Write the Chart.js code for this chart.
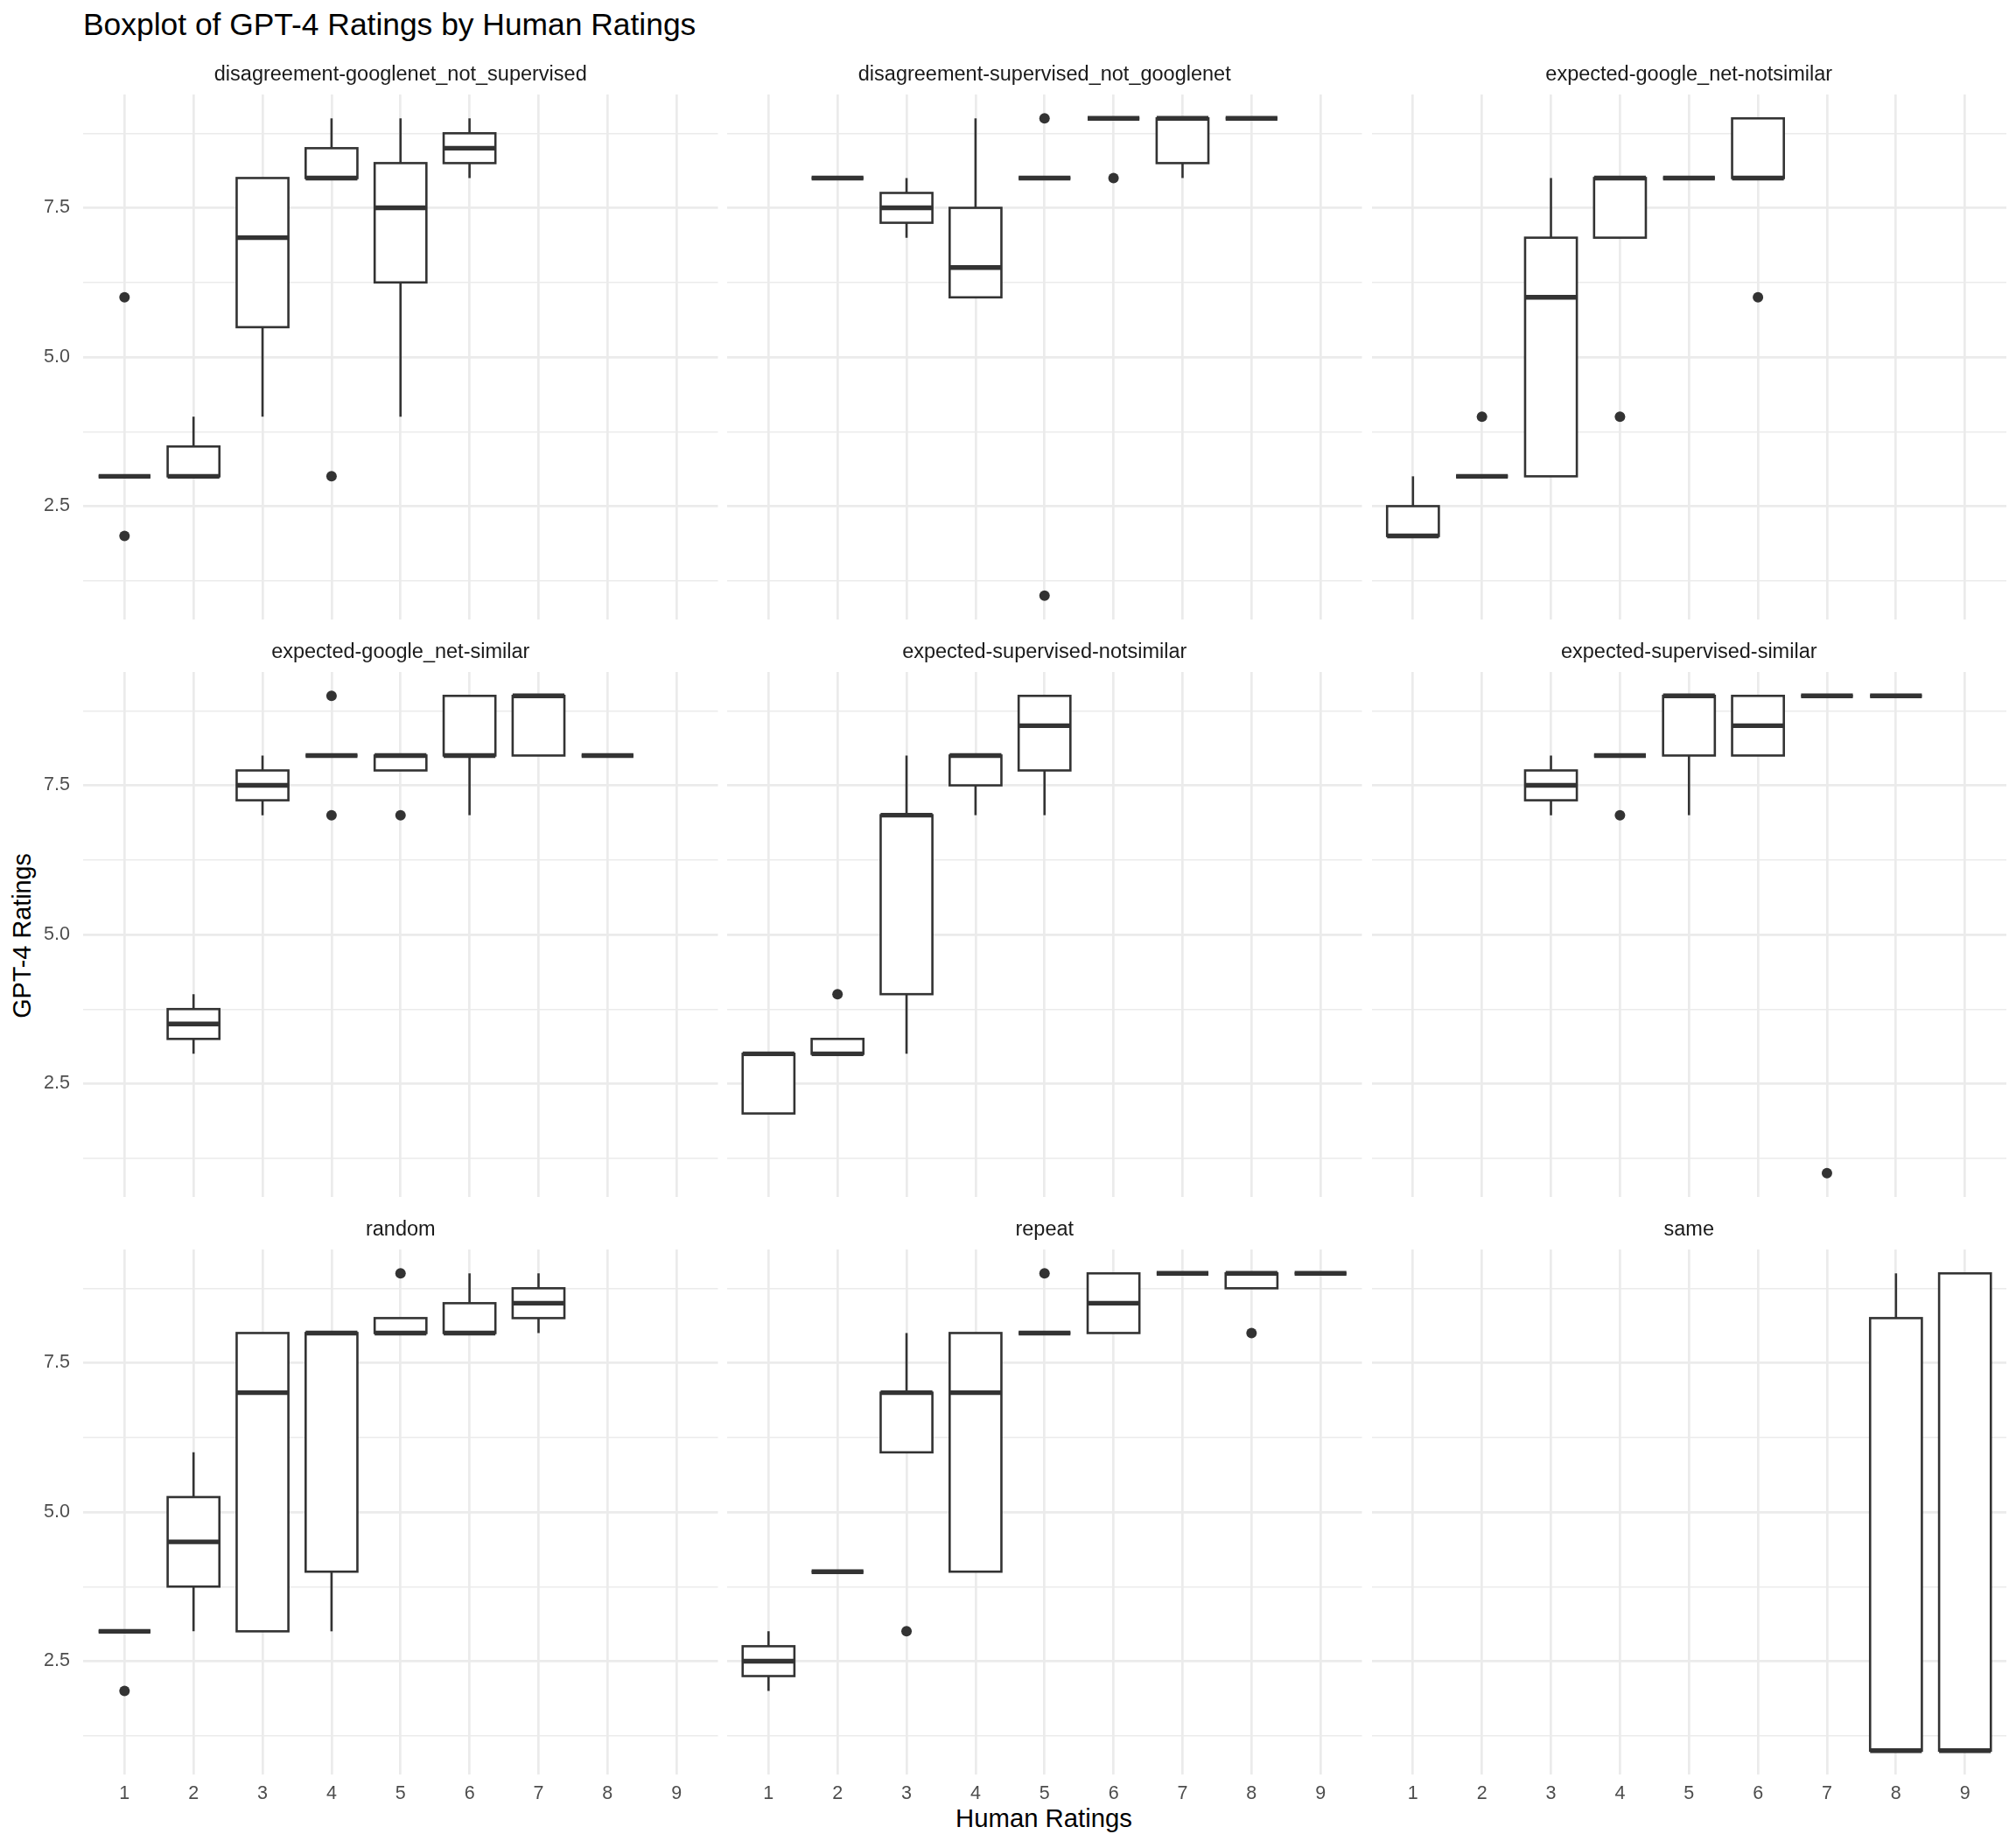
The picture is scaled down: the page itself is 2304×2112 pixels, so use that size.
<!DOCTYPE html>
<html>
<head>
<meta charset="utf-8">
<script src="https://cdn.jsdelivr.net/npm/chart.js@4.4.1/dist/chart.umd.min.js"></script>
<style>
html, body { margin: 0; padding: 0; background: #ffffff; }
#root { position: relative; width: 2304px; height: 2112px; overflow: hidden; background: #ffffff;
        font-family: "Liberation Sans", Arial, Helvetica, sans-serif; }
#root canvas { position: absolute; }
.txt { position: absolute; white-space: nowrap; color: #000000; }
</style>
</head>
<body>
<div id="root">
  <div class="txt" style="left:95px;top:11px;font-size:35.4px;line-height:35.4px;">Boxplot of GPT-4 Ratings by Human Ratings</div>
  <div class="txt" style="left:993px;top:2063.2px;width:400px;text-align:center;font-size:29.3px;line-height:29.3px;">Human Ratings</div>
  <div class="txt" style="left:-174.7px;top:1054.6px;width:400px;height:28.8px;text-align:center;font-size:28.8px;line-height:28.8px;transform:rotate(-90deg);">GPT-4 Ratings</div>
</div>
<script>
// ---------------- data ----------------
const N = null;
const humanRatings = [1, 2, 3, 4, 5, 6, 7, 8, 9];
const yMajorTicks = [2.5, 5.0, 7.5];
const yMinorTicks = [1.25, 3.75, 6.25, 8.75];
const panelNames = [
  "disagreement-googlenet_not_supervised",
  "disagreement-supervised_not_googlenet",
  "expected-google_net-notsimilar",
  "expected-google_net-similar",
  "expected-supervised-notsimilar",
  "expected-supervised-similar",
  "random",
  "repeat",
  "same"
];

// panel 1: disagreement-googlenet_not_supervised
const p1Low    = [3, 3,   4,   8,   4,    8,    N, N, N];
const p1Q1     = [3, 3,   5.5, 8,   6.25, 8.25, N, N, N];
const p1Median = [3, 3,   7,   8,   7.5,  8.5,  N, N, N];
const p1Q3     = [3, 3.5, 8,   8.5, 8.25, 8.75, N, N, N];
const p1High   = [3, 4,   8,   9,   9,    9,    N, N, N];
const p1OutX   = [1, 1, 4];
const p1OutY   = [6, 2, 3];

// panel 2: disagreement-supervised_not_googlenet
const p2Low    = [N, 8, 7,    6,   8, 9, 8,    9, N];
const p2Q1     = [N, 8, 7.25, 6,   8, 9, 8.25, 9, N];
const p2Median = [N, 8, 7.5,  6.5, 8, 9, 9,    9, N];
const p2Q3     = [N, 8, 7.75, 7.5, 8, 9, 9,    9, N];
const p2High   = [N, 8, 8,    9,   8, 9, 9,    9, N];
const p2OutX   = [5, 5, 6];
const p2OutY   = [9, 1, 8];

// panel 3: expected-google_net-notsimilar
const p3Low    = [2,   3, 3, 7, 8, 8, N, N, N];
const p3Q1     = [2,   3, 3, 7, 8, 8, N, N, N];
const p3Median = [2,   3, 6, 8, 8, 8, N, N, N];
const p3Q3     = [2.5, 3, 7, 8, 8, 9, N, N, N];
const p3High   = [3,   3, 8, 8, 8, 9, N, N, N];
const p3OutX   = [2, 4, 6];
const p3OutY   = [4, 4, 6];

// panel 4: expected-google_net-similar
const p4Low    = [N, 3,    7,    8, 7.75, 7, 8, 8, N];
const p4Q1     = [N, 3.25, 7.25, 8, 7.75, 8, 8, 8, N];
const p4Median = [N, 3.5,  7.5,  8, 8,    8, 9, 8, N];
const p4Q3     = [N, 3.75, 7.75, 8, 8,    9, 9, 8, N];
const p4High   = [N, 4,    8,    8, 8,    9, 9, 8, N];
const p4OutX   = [4, 4, 5];
const p4OutY   = [9, 7, 7];

// panel 5: expected-supervised-notsimilar
const p5Low    = [2, 3,    3, 7,   7,    N, N, N, N];
const p5Q1     = [2, 3,    4, 7.5, 7.75, N, N, N, N];
const p5Median = [3, 3,    7, 8,   8.5,  N, N, N, N];
const p5Q3     = [3, 3.25, 7, 8,   9,    N, N, N, N];
const p5High   = [3, 3.25, 8, 8,   9,    N, N, N, N];
const p5OutX   = [2];
const p5OutY   = [4];

// panel 6: expected-supervised-similar
const p6Low    = [N, N, 7,    8, 7, 8,   9, 9, N];
const p6Q1     = [N, N, 7.25, 8, 8, 8,   9, 9, N];
const p6Median = [N, N, 7.5,  8, 9, 8.5, 9, 9, N];
const p6Q3     = [N, N, 7.75, 8, 9, 9,   9, 9, N];
const p6High   = [N, N, 8,    8, 9, 9,   9, 9, N];
const p6OutX   = [4, 7];
const p6OutY   = [7, 1];

// panel 7: random
const p7Low    = [3, 3,    3, 3, 8,    8,   8,    N, N];
const p7Q1     = [3, 3.75, 3, 4, 8,    8,   8.25, N, N];
const p7Median = [3, 4.5,  7, 8, 8,    8,   8.5,  N, N];
const p7Q3     = [3, 5.25, 8, 8, 8.25, 8.5, 8.75, N, N];
const p7High   = [3, 6,    8, 8, 8.25, 9,   9,    N, N];
const p7OutX   = [1, 5];
const p7OutY   = [2, 9];

// panel 8: repeat
const p8Low    = [2,    4, 6, 4, 8, 8,   9, 8.75, 9];
const p8Q1     = [2.25, 4, 6, 4, 8, 8,   9, 8.75, 9];
const p8Median = [2.5,  4, 7, 7, 8, 8.5, 9, 9,    9];
const p8Q3     = [2.75, 4, 7, 8, 8, 9,   9, 9,    9];
const p8High   = [3,    4, 8, 8, 8, 9,   9, 9,    9];
const p8OutX   = [3, 5, 8];
const p8OutY   = [3, 9, 8];

// panel 9: same
const p9Low    = [N, N, N, N, N, N, N, 1,    1];
const p9Q1     = [N, N, N, N, N, N, N, 1,    1];
const p9Median = [N, N, N, N, N, N, N, 1,    1];
const p9Q3     = [N, N, N, N, N, N, N, 8.25, 9];
const p9High   = [N, N, N, N, N, N, N, 9,    9];
const p9OutX   = [];
const p9OutY   = [];

// ---------------- build ----------------
const panels = [
  [p1Low, p1Q1, p1Median, p1Q3, p1High, p1OutX, p1OutY],
  [p2Low, p2Q1, p2Median, p2Q3, p2High, p2OutX, p2OutY],
  [p3Low, p3Q1, p3Median, p3Q3, p3High, p3OutX, p3OutY],
  [p4Low, p4Q1, p4Median, p4Q3, p4High, p4OutX, p4OutY],
  [p5Low, p5Q1, p5Median, p5Q3, p5High, p5OutX, p5OutY],
  [p6Low, p6Q1, p6Median, p6Q3, p6High, p6OutX, p6OutY],
  [p7Low, p7Q1, p7Median, p7Q3, p7High, p7OutX, p7OutY],
  [p8Low, p8Q1, p8Median, p8Q3, p8High, p8OutX, p8OutY],
  [p9Low, p9Q1, p9Median, p9Q3, p9High, p9OutX, p9OutY]
].map((a, i) => ({ name: panelNames[i], low: a[0], q1: a[1], med: a[2], q3: a[3], high: a[4], outX: a[5], outY: a[6] }));

const FONT = "'Liberation Sans', Arial, Helvetica, sans-serif";
Chart.defaults.font.family = FONT;

const GRID = '#EBEBEB';
const INK = '#333333';
const BOX_HALF = 0.375;
const BOX_LW = 2.6, MED_LW = 5.4, GRID_MAJOR = 2.7, GRID_MINOR = 1.4;
const TICK_SIZE = 21.5;

const panelLefts = [95, 831, 1567.5];
const panelTops = [108, 768, 1428];
const PW = 725.5, PH = 600;
const STRIP_SIZE = 23.5, STRIP_GAP = 8;
const TA = STRIP_SIZE * 1.2 + STRIP_GAP;
const BA = 50;
const yAllTicks = yMinorTicks.concat(yMajorTicks).sort((a, b) => a - b);

function makeBoxPlugin(p) {
  return {
    id: 'ggBoxplot',
    beforeDatasetsDraw(chart) {
      const xs = chart.scales.x, ys = chart.scales.y, ctx = chart.ctx;
      ctx.save();
      ctx.strokeStyle = INK;
      ctx.lineCap = 'butt';
      ctx.lineJoin = 'miter';
      humanRatings.forEach((cat, i) => {
        if (p.med[i] === null) return;
        const cx = xs.getPixelForValue(cat);
        const xl = xs.getPixelForValue(cat - BOX_HALF);
        const xr = xs.getPixelForValue(cat + BOX_HALF);
        const yLo = ys.getPixelForValue(p.low[i]);
        const yQ1 = ys.getPixelForValue(p.q1[i]);
        const yMed = ys.getPixelForValue(p.med[i]);
        const yQ3 = ys.getPixelForValue(p.q3[i]);
        const yHi = ys.getPixelForValue(p.high[i]);
        ctx.lineWidth = BOX_LW;
        ctx.beginPath();
        if (yHi < yQ3) { ctx.moveTo(cx, yHi); ctx.lineTo(cx, yQ3); }
        if (yLo > yQ1) { ctx.moveTo(cx, yQ1); ctx.lineTo(cx, yLo); }
        ctx.stroke();
        ctx.fillStyle = '#FFFFFF';
        ctx.fillRect(xl, yQ3, xr - xl, yQ1 - yQ3);
        ctx.strokeRect(xl, yQ3, xr - xl, yQ1 - yQ3);
        ctx.lineWidth = MED_LW;
        ctx.beginPath();
        ctx.moveTo(xl, yMed);
        ctx.lineTo(xr, yMed);
        ctx.stroke();
      });
      ctx.restore();
    }
  };
}

const root = document.getElementById('root');
panels.forEach((p, idx) => {
  const c = idx % 3, r = Math.floor(idx / 3);
  const pl = panelLefts[c], pt = panelTops[r];
  const cLeft = Math.floor(pl - 90);
  const LA = pl - cLeft;
  const cWidth = Math.ceil(LA + PW + 6);
  const padRight = cWidth - LA - PW;
  const cTop = Math.floor(pt - TA - 2);
  const padTop = pt - TA - cTop;
  const cHeight = Math.ceil(padTop + TA + PH + BA);
  const padBottom = cHeight - (padTop + TA + PH + BA);

  const cv = document.createElement('canvas');
  cv.width = cWidth; cv.height = cHeight;
  cv.style.left = cLeft + 'px'; cv.style.top = cTop + 'px';
  cv.style.width = cWidth + 'px'; cv.style.height = cHeight + 'px';
  root.appendChild(cv);

  new Chart(cv, {
    type: 'scatter',
    data: {
      datasets: [{
        data: p.outX.map((v, i) => ({ x: v, y: p.outY[i] })),
        pointRadius: 6, pointHoverRadius: 6,
        pointBackgroundColor: INK, pointBorderColor: INK, pointBorderWidth: 0
      }]
    },
    options: {
      responsive: false, animation: false, devicePixelRatio: 1, events: [],
      layout: { padding: { left: 0, top: padTop, right: padRight, bottom: padBottom } },
      plugins: {
        legend: { display: false },
        tooltip: { enabled: false },
        title: {
          display: true, text: p.name, fullSize: false, color: '#1A1A1A',
          font: { family: FONT, size: STRIP_SIZE, weight: 'normal', lineHeight: 1.2 },
          padding: { top: 0, bottom: STRIP_GAP }
        }
      },
      scales: {
        x: {
          type: 'linear', min: 0.4, max: 9.6,
          afterBuildTicks: s => { s.ticks = humanRatings.map(v => ({ value: v })); },
          afterFit: s => { s.height = BA; },
          grid: { color: GRID, lineWidth: GRID_MAJOR, drawTicks: false },
          border: { display: false },
          ticks: { display: r === 2, padding: 9, color: '#4D4D4D', font: { family: FONT, size: TICK_SIZE },
                   callback: v => String(v) }
        },
        y: {
          type: 'linear', min: 0.6, max: 9.4,
          afterBuildTicks: s => { s.ticks = yAllTicks.map(v => ({ value: v })); },
          afterFit: s => { s.width = LA; },
          grid: { color: GRID, drawTicks: false,
                  lineWidth: ctx => (ctx.tick && yMajorTicks.includes(ctx.tick.value)) ? GRID_MAJOR : GRID_MINOR },
          border: { display: false },
          ticks: { display: c === 0, padding: 15, color: '#4D4D4D', font: { family: FONT, size: TICK_SIZE },
                   callback: v => yMajorTicks.includes(v) ? v.toFixed(1) : '' }
        }
      }
    },
    plugins: [makeBoxPlugin(p)]
  });
});
</script>
</body>
</html>
